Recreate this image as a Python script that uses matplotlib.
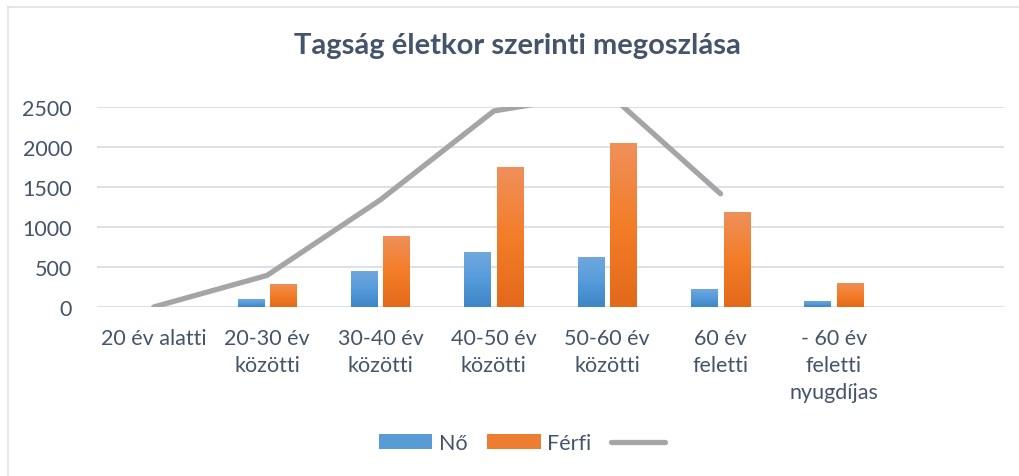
import numpy as np
import matplotlib
matplotlib.use("Agg")
import matplotlib.pyplot as plt
from matplotlib.colors import LinearSegmentedColormap
from matplotlib.lines import Line2D
from matplotlib.patches import Patch

plt.rcParams['font.family'] = ['Lato', 'DejaVu Sans']

categories = ["20 év alatti", "20-30 év\nközötti", "30-40 év\nközötti", "40-50 év\nközötti",
              "50-60 év\nközötti", "60 év\nfeletti", "- 60 év\nfeletti\nnyugdíjas", ""]
no_vals = [0, 100, 455, 690, 630, 230, 80, np.nan]
ferfi_vals = [0, 290, 890, 1755, 2055, 1190, 305, np.nan]
total_vals = [0, 395, 1340, 2450, 2685, 1415, np.nan, np.nan]
yticks = [0, 500, 1000, 1500, 2000, 2500]

TEXT = '#44546A'
GRID = '#D9DEE5'

W, H = 1019, 477
fig = plt.figure(figsize=(W / 100, H / 100), dpi=100)
ax = fig.add_axes([97 / W, 1 - 308 / H, (1004 - 97) / W, (308 - 108) / H])

x = np.arange(len(categories))
bw = 0.234
off = 0.143

blue_cmap = LinearSegmentedColormap.from_list('b', ['#3D85C6', '#559BDB', '#72A8DD'])
orange_cmap = LinearSegmentedColormap.from_list('o', ['#E3691A', '#F37D28', '#EF905B'])

def grad_bars(xs, vals, cmap, base):
    bars = ax.bar(xs, vals, bw, color=base, zorder=2, linewidth=0)
    grad = np.linspace(0, 1, 256).reshape(-1, 1)
    for b in bars:
        h = b.get_height()
        if not np.isfinite(h) or h <= 0:
            continue
        x0 = b.get_x()
        im = ax.imshow(grad, cmap=cmap, origin='lower', aspect='auto',
                       extent=[x0, x0 + b.get_width(), 0, h], zorder=2.1)
        im.set_clip_path(b)
    return bars

grad_bars(x - off, no_vals, blue_cmap, '#5B9BD5')
grad_bars(x + off, ferfi_vals, orange_cmap, '#ED7D31')

ax.plot(x, total_vals, color='#A5A5A5', lw=3.8, solid_capstyle='round',
        solid_joinstyle='round', zorder=3)

ax.set_xlim(-0.5, len(categories) - 0.5)
ax.set_ylim(0, 2500)
ax.set_yticks(yticks)
ax.set_xticks(x)
ax.set_xticklabels(categories, linespacing=1.45)
ax.yaxis.grid(True, color=GRID, lw=1.3, zorder=0)
ax.set_axisbelow(True)
for s in ax.spines.values():
    s.set_visible(False)
ax.tick_params(axis='both', length=0, labelsize=15.5, colors=TEXT)
ax.tick_params(axis='y', pad=18)
ax.tick_params(axis='x', pad=15)

fig.text(0.508, 1 - 46 / H, "Tagság életkor szerinti megoszlása", ha='center', va='center',
         fontsize=21, fontweight='bold', color=TEXT)

handles = [Patch(facecolor='#5B9BD5', edgecolor='none'),
           Patch(facecolor='#ED7D31', edgecolor='none'),
           Line2D([0], [0], color='#A5A5A5', lw=3.8, solid_capstyle='round')]
leg = fig.legend(handles, ['Nő', 'Férfi', ''], loc='center', bbox_to_anchor=(0.515, 1 - 444 / H),
                 ncol=3, frameon=False, fontsize=15.5, handlelength=2.5, handleheight=0.65,
                 handletextpad=0.3, columnspacing=0.9, labelcolor=TEXT)

# chart area border (top and left visible)
fig.add_artist(Line2D([8 / W, 1], [1 - 8 / H, 1 - 8 / H], color='#DEE2E8', lw=1.2, transform=fig.transFigure))
fig.add_artist(Line2D([8 / W, 8 / W], [0, 1 - 8 / H], color='#DEE2E8', lw=1.2, transform=fig.transFigure))

fig.savefig('out.png', dpi=100)
